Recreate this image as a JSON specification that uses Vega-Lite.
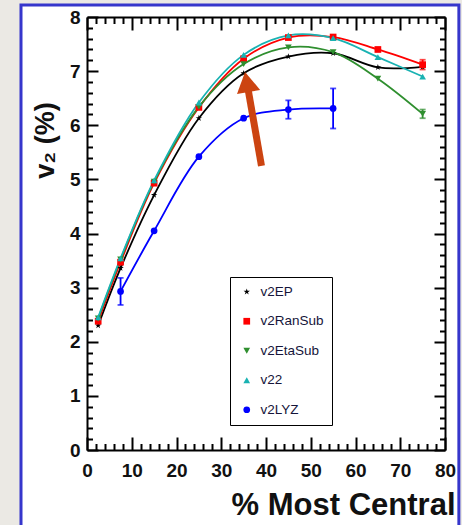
{
  "$schema": "https://vega.github.io/schema/vega-lite/v6.json",
  "width": 358,
  "height": 433,
  "autosize": "none",
  "padding": {"left": 87, "top": 17, "right": 17, "bottom": 75},
  "background": "#ebe9e4",
  "config": {
    "font": "Liberation Sans",
    "view": {"stroke": null}
  },
  "datasets": {
    "flow": [
      {"cent": 2.5, "v2": 2.30, "err": 0, "method": "v2EP"},
      {"cent": 7.5, "v2": 3.36, "err": 0, "method": "v2EP"},
      {"cent": 15, "v2": 4.71, "err": 0, "method": "v2EP"},
      {"cent": 25, "v2": 6.13, "err": 0, "method": "v2EP"},
      {"cent": 35, "v2": 6.96, "err": 0, "method": "v2EP"},
      {"cent": 45, "v2": 7.27, "err": 0, "method": "v2EP"},
      {"cent": 55, "v2": 7.33, "err": 0, "method": "v2EP"},
      {"cent": 65, "v2": 7.07, "err": 0, "method": "v2EP"},
      {"cent": 75, "v2": 7.08, "err": 0, "method": "v2EP"},
      {"cent": 2.5, "v2": 2.38, "err": 0, "method": "v2RanSub"},
      {"cent": 7.5, "v2": 3.47, "err": 0, "method": "v2RanSub"},
      {"cent": 15, "v2": 4.93, "err": 0, "method": "v2RanSub"},
      {"cent": 25, "v2": 6.33, "err": 0, "method": "v2RanSub"},
      {"cent": 35, "v2": 7.23, "err": 0, "method": "v2RanSub"},
      {"cent": 45, "v2": 7.62, "err": 0, "method": "v2RanSub"},
      {"cent": 55, "v2": 7.63, "err": 0, "method": "v2RanSub"},
      {"cent": 65, "v2": 7.40, "err": 0, "method": "v2RanSub"},
      {"cent": 75, "v2": 7.12, "err": 0.09, "method": "v2RanSub"},
      {"cent": 2.5, "v2": 2.43, "err": 0, "method": "v2EtaSub"},
      {"cent": 7.5, "v2": 3.52, "err": 0, "method": "v2EtaSub"},
      {"cent": 15, "v2": 4.96, "err": 0, "method": "v2EtaSub"},
      {"cent": 25, "v2": 6.34, "err": 0, "method": "v2EtaSub"},
      {"cent": 35, "v2": 7.13, "err": 0, "method": "v2EtaSub"},
      {"cent": 45, "v2": 7.44, "err": 0, "method": "v2EtaSub"},
      {"cent": 55, "v2": 7.35, "err": 0, "method": "v2EtaSub"},
      {"cent": 65, "v2": 6.86, "err": 0, "method": "v2EtaSub"},
      {"cent": 75, "v2": 6.21, "err": 0.08, "method": "v2EtaSub"},
      {"cent": 2.5, "v2": 2.45, "err": 0, "method": "v22"},
      {"cent": 7.5, "v2": 3.54, "err": 0, "method": "v22"},
      {"cent": 15, "v2": 4.98, "err": 0, "method": "v22"},
      {"cent": 25, "v2": 6.42, "err": 0, "method": "v22"},
      {"cent": 35, "v2": 7.30, "err": 0, "method": "v22"},
      {"cent": 45, "v2": 7.66, "err": 0, "method": "v22"},
      {"cent": 55, "v2": 7.61, "err": 0, "method": "v22"},
      {"cent": 65, "v2": 7.26, "err": 0, "method": "v22"},
      {"cent": 75, "v2": 6.90, "err": 0, "method": "v22"},
      {"cent": 7.5, "v2": 2.93, "err": 0.25, "method": "v2LYZ"},
      {"cent": 15, "v2": 4.05, "err": 0, "method": "v2LYZ"},
      {"cent": 25, "v2": 5.42, "err": 0, "method": "v2LYZ"},
      {"cent": 35, "v2": 6.13, "err": 0, "method": "v2LYZ"},
      {"cent": 45, "v2": 6.29, "err": 0.17, "method": "v2LYZ"},
      {"cent": 55, "v2": 6.31, "err": 0.37, "method": "v2LYZ"}
    ],
    "arrow": [
      {"cent": 38.99, "v2": 5.25, "centHead": 35.71, "v2Head": 6.80}
    ]
  },
  "resolve": {
    "axis": {"x": "independent", "y": "independent"},
    "legend": {"color": "independent", "shape": "independent"}
  },
  "layer": [
    {
      "data": {"values": [{}]},
      "mark": {"type": "rect", "fill": "white", "stroke": "#3636cc", "strokeWidth": 3, "clip": false},
      "encoding": {
        "x": {"datum": -14.75, "type": "quantitative", "scale": {"domain": [0, 80], "nice": false, "zero": false}, "axis": null},
        "x2": {"datum": 83.1},
        "y": {"datum": 8.22, "type": "quantitative", "scale": {"domain": [0, 8], "nice": false, "zero": false}, "axis": null},
        "y2": {"datum": -1.6}
      }
    },
    {
      "data": {"name": "flow"},
      "mark": {"type": "line", "interpolate": "catmull-rom", "strokeWidth": 1.8},
      "encoding": {
        "x": {
          "field": "cent", "type": "quantitative",
          "scale": {"domain": [0, 80], "nice": false, "zero": false},
          "axis": {
            "orient": "bottom", "zindex": 2, "grid": false,
            "values": [0, 2, 4, 6, 8, 10, 12, 14, 16, 18, 20, 22, 24, 26, 28, 30, 32, 34, 36, 38, 40, 42, 44, 46, 48, 50, 52, 54, 56, 58, 60, 62, 64, 66, 68, 70, 72, 74, 76, 78, 80],
            "labelExpr": "datum.value % 10 === 0 ? format(datum.value, 'd') : ''",
            "tickSize": {"condition": {"test": "datum.value % 10 === 0", "value": -13}, "value": -6.5},
            "tickWidth": 2, "tickColor": "black",
            "domainColor": "black", "domainWidth": 2,
            "labelFontSize": 19, "labelFontWeight": "bold", "labelColor": "#111111",
            "labelPadding": 24, "labelOverlap": false, "labelFlush": false, "labelBound": false,
            "title": "% Most Central",
            "titleFontSize": 31, "titleFontWeight": "bold", "titleColor": "#111111",
            "titleAnchor": null, "titleAlign": "right", "titleBaseline": "alphabetic",
            "titleX": 368, "titleY": 64
          }
        },
        "y": {
          "field": "v2", "type": "quantitative",
          "scale": {"domain": [0, 8], "nice": false, "zero": false},
          "axis": {
            "orient": "left", "zindex": 2, "grid": false,
            "values": [0, 0.2, 0.4, 0.6, 0.8, 1, 1.2, 1.4, 1.6, 1.8, 2, 2.2, 2.4, 2.6, 2.8, 3, 3.2, 3.4, 3.6, 3.8, 4, 4.2, 4.4, 4.6, 4.8, 5, 5.2, 5.4, 5.6, 5.8, 6, 6.2, 6.4, 6.6, 6.8, 7, 7.2, 7.4, 7.6, 7.8, 8],
            "labelExpr": "abs(datum.value - round(datum.value)) < 0.001 ? format(datum.value, '.0f') : ''",
            "tickSize": {"condition": {"test": "abs(datum.value - round(datum.value)) < 0.001", "value": -11}, "value": -5.5},
            "tickWidth": 2, "tickColor": "black",
            "domainColor": "black", "domainWidth": 2,
            "labelFontSize": 19, "labelFontWeight": "bold", "labelColor": "#111111",
            "labelPadding": 18, "labelOverlap": false, "labelFlush": false, "labelBound": false,
            "title": "v₂ (%)",
            "titleFontSize": 27, "titleFontWeight": "bold", "titleColor": "#111111",
            "titleAnchor": null, "titleAngle": 270, "titleAlign": "center", "titleBaseline": "alphabetic",
            "titleX": -34, "titleY": 123
          }
        },
        "color": {"field": "method", "type": "nominal", "legend": null,
          "scale": {"domain": ["v2EP", "v2RanSub", "v2EtaSub", "v22", "v2LYZ"], "range": ["#000000", "#ff0000", "#2f8f2f", "#19b2b2", "#0000ff"]}},
        "detail": {"field": "method"}
      }
    },
    {
      "data": {"name": "flow"},
      "transform": [{"filter": "datum.err > 0"}],
      "mark": {"type": "errorbar", "thickness": 1.8, "ticks": {"size": 6, "thickness": 1.8}},
      "encoding": {
        "x": {"field": "cent", "type": "quantitative", "scale": {"domain": [0, 80], "nice": false, "zero": false}, "axis": null},
        "y": {"field": "v2", "type": "quantitative", "scale": {"domain": [0, 8], "nice": false, "zero": false}, "axis": null},
        "yError": {"field": "err"},
        "color": {"field": "method", "type": "nominal", "legend": null}
      }
    },
    {
      "data": {"name": "flow"},
      "mark": {"type": "point", "filled": true, "opacity": 1, "size": 45},
      "encoding": {
        "x": {
          "field": "cent", "type": "quantitative",
          "scale": {"domain": [0, 80], "nice": false, "zero": false},
          "axis": {
            "orient": "top", "zindex": 2, "grid": false, "labels": false, "title": null,
            "values": [0, 2, 4, 6, 8, 10, 12, 14, 16, 18, 20, 22, 24, 26, 28, 30, 32, 34, 36, 38, 40, 42, 44, 46, 48, 50, 52, 54, 56, 58, 60, 62, 64, 66, 68, 70, 72, 74, 76, 78, 80],
            "tickSize": {"condition": {"test": "datum.value % 10 === 0", "value": -13}, "value": -6.5},
            "tickWidth": 2, "tickColor": "black",
            "domainColor": "black", "domainWidth": 2
          }
        },
        "y": {
          "field": "v2", "type": "quantitative",
          "scale": {"domain": [0, 8], "nice": false, "zero": false},
          "axis": {
            "orient": "right", "zindex": 2, "grid": false, "labels": false, "title": null,
            "values": [0, 0.2, 0.4, 0.6, 0.8, 1, 1.2, 1.4, 1.6, 1.8, 2, 2.2, 2.4, 2.6, 2.8, 3, 3.2, 3.4, 3.6, 3.8, 4, 4.2, 4.4, 4.6, 4.8, 5, 5.2, 5.4, 5.6, 5.8, 6, 6.2, 6.4, 6.6, 6.8, 7, 7.2, 7.4, 7.6, 7.8, 8],
            "tickSize": {"condition": {"test": "abs(datum.value - round(datum.value)) < 0.001", "value": -11}, "value": -5.5},
            "tickWidth": 2, "tickColor": "black",
            "domainColor": "black", "domainWidth": 2
          }
        },
        "color": {
          "field": "method", "type": "nominal",
          "scale": {"domain": ["v2EP", "v2RanSub", "v2EtaSub", "v22", "v2LYZ"], "range": ["#000000", "#ff0000", "#2f8f2f", "#19b2b2", "#0000ff"]},
          "legend": {
            "orient": "none", "legendX": 143, "legendY": 260, "zindex": 2,
            "title": null,
            "fillColor": "white", "strokeColor": "black",
            "padding": 8, "rowPadding": 14.5,
            "symbolSize": 45, "symbolOffset": 2, "symbolStrokeWidth": 0,
            "labelOffset": 7, "labelFontSize": 13.5, "labelColor": "#15153a",
            "labelExpr": "datum.label + '           '"
          }
        },
        "shape": {
          "field": "method", "type": "nominal",
          "scale": {"domain": ["v2EP", "v2RanSub", "v2EtaSub", "v22", "v2LYZ"],
            "range": ["M0,-1L0.225,-0.309L0.951,-0.309L0.363,0.118L0.588,0.809L0,0.382L-0.588,0.809L-0.363,0.118L-0.951,-0.309L-0.225,-0.309Z", "square", "triangle-down", "triangle-up", "circle"]},
          "legend": {
            "orient": "none", "legendX": 143, "legendY": 260, "zindex": 2,
            "title": null,
            "fillColor": "white", "strokeColor": "black",
            "padding": 8, "rowPadding": 14.5,
            "symbolSize": 45, "symbolOffset": 2, "symbolStrokeWidth": 0,
            "labelOffset": 7, "labelFontSize": 13.5, "labelColor": "#15153a",
            "labelExpr": "datum.label + '           '"
          }
        }
      }
    },
    {
      "data": {"name": "arrow"},
      "mark": {"type": "rule", "color": "#cc4411", "strokeWidth": 7, "strokeCap": "butt"},
      "encoding": {
        "x": {"field": "cent", "type": "quantitative", "scale": {"domain": [0, 80], "nice": false, "zero": false}, "axis": null},
        "y": {"field": "v2", "type": "quantitative", "scale": {"domain": [0, 8], "nice": false, "zero": false}, "axis": null},
        "x2": {"field": "centHead"},
        "y2": {"field": "v2Head"}
      }
    },
    {
      "data": {"name": "arrow"},
      "mark": {"type": "point", "shape": "triangle-up", "filled": true, "opacity": 1, "color": "#cc4411", "size": 552, "angle": -10},
      "encoding": {
        "x": {"field": "centHead", "type": "quantitative", "scale": {"domain": [0, 80], "nice": false, "zero": false}, "axis": null},
        "y": {"field": "v2Head", "type": "quantitative", "scale": {"domain": [0, 8], "nice": false, "zero": false}, "axis": null}
      }
    }
  ]
}
